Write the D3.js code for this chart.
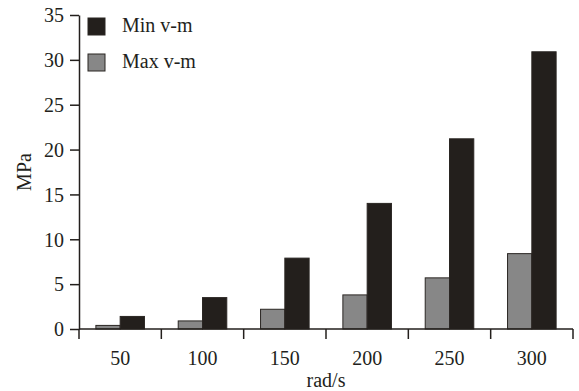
<!DOCTYPE html>
<html>
<head>
<meta charset="utf-8">
<script src="https://cdn.jsdelivr.net/npm/d3@7"></script>
<style>
  html, body { margin: 0; padding: 0; background: #fff; }
</style>
</head>
<body>
<div id="chart"></div>
<script>
const categories = ['50', '100', '150', '200', '250', '300'];
const seriesNames = ['Max v-m', 'Min v-m'];
const maxVm = [0.4, 0.9, 2.2, 3.8, 5.7, 8.4];
const minVm = [1.4, 3.5, 7.9, 14.0, 21.2, 30.9];
const yTicks = [0, 5, 10, 15, 20, 25, 30, 35];

const INK = '#231f1c';
const GRAY = '#878787';
const FONT = '"Liberation Serif", "Times New Roman", "DejaVu Serif", serif';

const width = 579, height = 391;
const margin = { top: 15, right: 6, bottom: 62, left: 79 };
const innerW = width - margin.left - margin.right;
const innerH = height - margin.top - margin.bottom;

const svg = d3.select('#chart').append('svg').attr('width', width).attr('height', height)
  .attr('font-family', FONT);
const g = svg.append('g').attr('transform', `translate(${margin.left},${margin.top})`);

const x0 = d3.scaleBand().domain(categories).range([0, innerW]).paddingInner(0).paddingOuter(0);
const x1 = d3.scaleBand().domain(seriesNames).range([x0.bandwidth() * 0.205, x0.bandwidth() * 0.795]);
const y = d3.scaleLinear().domain([0, 35]).range([innerH, 0]);

const rows = categories.map((c, i) => ({ c, vals: [{ k: 'Max v-m', v: maxVm[i] }, { k: 'Min v-m', v: minVm[i] }] }));

const grp = g.selectAll('g.cat').data(rows).enter().append('g')
  .attr('transform', (d) => `translate(${x0(d.c)},0)`);
grp.selectAll('rect').data((d) => d.vals).enter().append('rect')
  .attr('x', (d) => x1(d.k))
  .attr('y', (d) => y(d.v))
  .attr('width', x1.bandwidth())
  .attr('height', (d) => innerH - y(d.v))
  .attr('fill', (d) => (d.k === 'Max v-m' ? GRAY : INK))
  .attr('stroke', '#2a2623')
  .attr('stroke-width', 1);

// y axis
const ya = g.append('g').call(d3.axisLeft(y).tickValues(yTicks).tickSize(9).tickPadding(6).tickSizeOuter(0));
ya.attr('font-family', FONT).attr('font-size', 20);
ya.selectAll('text').attr('dy', '0.34em');

// x axis: ticks at band boundaries, labels centered
const xa = g.append('g').attr('transform', `translate(0,${innerH})`);
xa.append('line').attr('x1', 0).attr('x2', innerW).attr('stroke', INK).attr('stroke-width', 1.5);
const bounds = categories.map((c) => x0(c)).concat([innerW]);
xa.selectAll('line.tk').data(bounds).enter().append('line')
  .attr('class', 'tk')
  .attr('x1', (d) => d).attr('x2', (d) => d)
  .attr('y1', 0).attr('y2', 10)
  .attr('stroke', INK).attr('stroke-width', 1.5);
xa.selectAll('text').data(categories).enter().append('text')
  .attr('x', (d) => x0(d) + x0.bandwidth() / 2)
  .attr('y', 36)
  .attr('text-anchor', 'middle')
  .attr('font-size', 20)
  .attr('fill', INK)
  .text((d) => d);

g.selectAll('.domain').attr('stroke', INK).attr('stroke-width', 1.5);
g.selectAll('.tick line').attr('stroke', INK).attr('stroke-width', 1.5);
g.selectAll('.tick text').attr('fill', INK);

// axis titles
svg.append('text')
  .attr('x', margin.left + innerW / 2)
  .attr('y', 387)
  .attr('text-anchor', 'middle')
  .attr('font-size', 20)
  .attr('fill', INK)
  .text('rad/s');
svg.append('text')
  .attr('transform', `translate(31,${margin.top + innerH / 2}) rotate(-90)`)
  .attr('text-anchor', 'middle')
  .attr('font-size', 20)
  .attr('fill', INK)
  .text('MPa');

// legend
const legend = svg.append('g').attr('transform', 'translate(88,18)');
const legendItems = ['Min v-m', 'Max v-m'];
legendItems.forEach((name, i) => {
  const row = legend.append('g').attr('transform', `translate(0,${i * 36})`);
  row.append('rect').attr('width', 17).attr('height', 17)
    .attr('fill', name === 'Max v-m' ? GRAY : INK)
    .attr('stroke', '#2a2623').attr('stroke-width', 1);
  row.append('text').attr('x', 34).attr('y', 14).attr('font-size', 20).attr('fill', INK).text(name);
});
</script>
</body>
</html>
